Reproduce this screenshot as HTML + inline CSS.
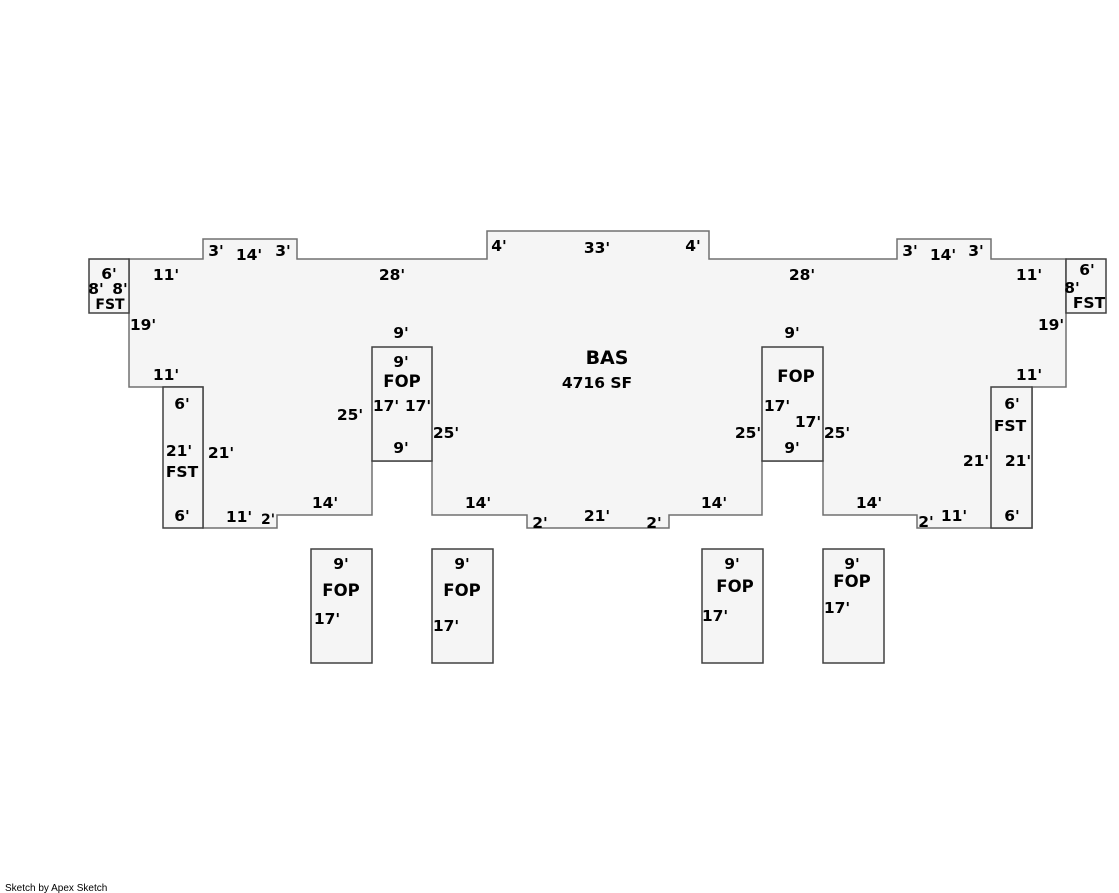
<!DOCTYPE html>
<html><head><meta charset="utf-8"><style>
html,body{margin:0;padding:0;background:#fff;}
svg{display:block;}
text{font-family:"DejaVu Sans","Liberation Sans",sans-serif;font-weight:bold;font-size:15.5px;fill:#000;text-anchor:middle;}
</style></head><body>
<svg width="1119" height="893" viewBox="0 0 1119 893" xmlns="http://www.w3.org/2000/svg">
<g fill="#f5f5f5" stroke="#707070" stroke-width="1.5">
<polygon points="129,259 203,259 203,239 297,239 297,259 487,259 487,231 709,231 709,259 897,259 897,239 991,239 991,259 1066,259 1066,387 1032,387 1032,528 917,528 917,515 823,515 823,461 762,461 762,515 669,515 669,528 527,528 527,515 432,515 432,461 372,461 372,515 277,515 277,528 203,528 203,387 129,387"/>
</g>
<g fill="#f5f5f5" stroke="#404040" stroke-width="1.5">
<rect x="89" y="259" width="40" height="54"/>
<rect x="163" y="387" width="40" height="141"/>
<rect x="372" y="347" width="60" height="114"/>
<rect x="762" y="347" width="61" height="114"/>
<rect x="991" y="387" width="41" height="141"/>
<rect x="1066" y="259" width="40" height="54"/>
<rect x="311" y="549" width="61" height="114"/>
<rect x="432" y="549" width="61" height="114"/>
<rect x="702" y="549" width="61" height="114"/>
<rect x="823" y="549" width="61" height="114"/>
</g>
<text x="109" y="279">6'</text><text x="96" y="294">8'</text><text x="120" y="294">8'</text><text x="110" y="309" style="font-size:14px">FST</text>
<text x="166" y="280">11'</text><text x="216" y="256">3'</text><text x="249" y="260">14'</text><text x="283" y="256">3'</text>
<text x="392" y="280">28'</text><text x="499" y="251">4'</text><text x="597" y="253">33'</text><text x="693" y="251">4'</text>
<text x="802" y="280">28'</text><text x="910" y="256">3'</text><text x="943" y="260">14'</text><text x="976" y="256">3'</text>
<text x="1029" y="280">11'</text><text x="1087" y="275">6'</text><text x="1072" y="293">8'</text><text x="1089" y="308">FST</text>
<text x="143" y="330">19'</text><text x="1051" y="330">19'</text>
<text x="401" y="338">9'</text><text x="792" y="338">9'</text>
<text x="607" y="364" style="font-size:19px">BAS</text><text x="597" y="388">4716 SF</text>
<text x="166" y="380">11'</text><text x="1029" y="380">11'</text>
<text x="401" y="367">9'</text><text x="402" y="387" style="font-size:16.5px">FOP</text>
<text x="386" y="411">17'</text><text x="418" y="411">17'</text>
<text x="350" y="420">25'</text><text x="446" y="438">25'</text>
<text x="796" y="382" style="font-size:16.5px">FOP</text><text x="777" y="411">17'</text><text x="808" y="427">17'</text>
<text x="748" y="438">25'</text><text x="837" y="438">25'</text>
<text x="182" y="409">6'</text><text x="179" y="456">21'</text><text x="182" y="477">FST</text><text x="221" y="458">21'</text>
<text x="1012" y="409">6'</text><text x="1010" y="431">FST</text><text x="976" y="466">21'</text><text x="1018" y="466">21'</text>
<text x="401" y="453">9'</text><text x="792" y="453">9'</text>
<text x="325" y="508">14'</text><text x="478" y="508">14'</text><text x="714" y="508">14'</text><text x="869" y="508">14'</text>
<text x="182" y="521">6'</text><text x="239" y="522">11'</text><text x="268" y="524" style="font-size:14px">2'</text>
<text x="540" y="528">2'</text><text x="597" y="521">21'</text><text x="654" y="528">2'</text>
<text x="926" y="527">2'</text><text x="954" y="521">11'</text><text x="1012" y="521">6'</text>
<text x="341" y="569">9'</text><text x="341" y="596" style="font-size:16.5px">FOP</text><text x="327" y="624">17'</text>
<text x="462" y="569">9'</text><text x="462" y="596" style="font-size:16.5px">FOP</text><text x="446" y="631">17'</text>
<text x="732" y="569">9'</text><text x="735" y="592" style="font-size:16.5px">FOP</text><text x="715" y="621">17'</text>
<text x="852" y="569">9'</text><text x="852" y="587" style="font-size:16.5px">FOP</text><text x="837" y="613">17'</text>
<text x="5" y="891" style="font-size:10px;font-weight:normal;text-anchor:start;font-family:'Liberation Sans',sans-serif">Sketch by Apex Sketch</text>
</svg>
</body></html>
